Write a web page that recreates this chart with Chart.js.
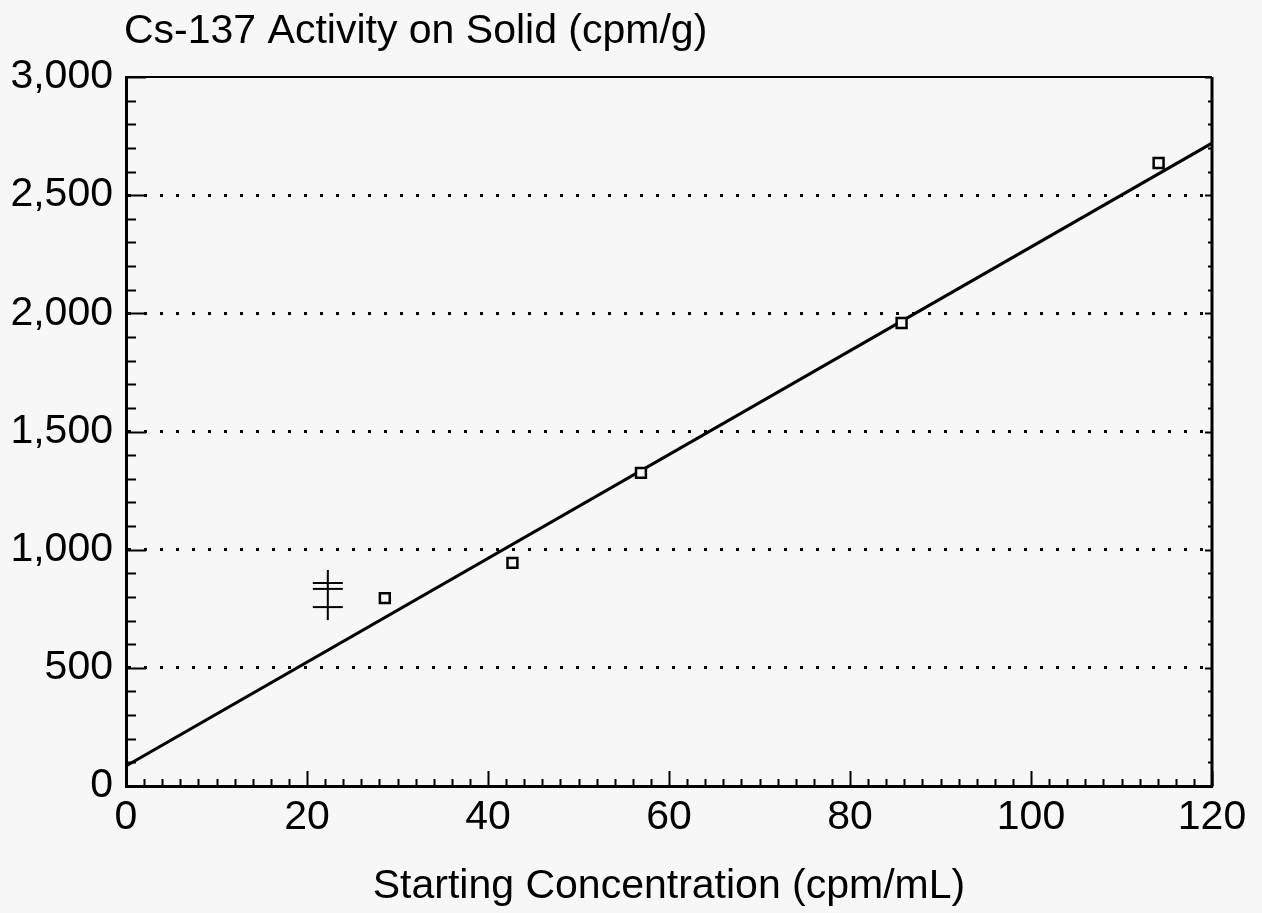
<!DOCTYPE html>
<html>
<head>
<meta charset="utf-8">
<title>Cs-137 Activity on Solid</title>
<script src="https://cdn.jsdelivr.net/npm/chart.js@4.4.1/dist/chart.umd.min.js"></script>
<style>
  html, body { margin: 0; padding: 0; background: #f7f7f7; }
  #wrap { width: 1262px; height: 913px; }
</style>
</head>
<body>
<div id="wrap"><canvas id="sorptionChart"></canvas></div>
<script>
// measured points: starting concentration vs activity on solid
const startConc = [28.6, 42.7, 56.9, 85.7, 114.1];
const solidActivity = [795, 944, 1325, 1959, 2636];

// fitted line end points
const fitConc = [0, 120];
const fitActivity = [85, 2720];

// double-bar marker near x = 22
const markConc = 22.3;
const markBarActivity = [702, 914];
const markTickActivity = [859, 834, 757];

const xTicks = [0, 20, 40, 60, 80, 100, 120];
const yTicks = [0, 500, 1000, 1500, 2000, 2500, 3000];

const FONT = "'Liberation Sans', Arial, Helvetica, sans-serif";
const BG = '#f7f7f7';

// background, title, frame and the inward tick marks
const frameTicks = {
  id: 'frameTicks',
  beforeDraw(chart) {
    const ctx = chart.ctx;
    ctx.save();
    ctx.fillStyle = BG;
    ctx.fillRect(0, 0, chart.width, chart.height);
    ctx.fillStyle = '#000';
    ctx.font = '41px ' + FONT;
    ctx.textAlign = 'left';
    ctx.textBaseline = 'alphabetic';
    ctx.fillText('Cs-137 Activity on Solid (cpm/g)', 124, 43);
    ctx.restore();
  },
  beforeDatasetsDraw(chart) {
    const ctx = chart.ctx;
    const area = chart.chartArea;
    const xs = chart.scales.x, ys = chart.scales.y;
    ctx.save();
    ctx.strokeStyle = '#000';

    // top and right edges of the frame
    ctx.lineWidth = 2;
    ctx.beginPath();
    ctx.moveTo(area.left, area.top);
    ctx.lineTo(area.right, area.top);
    ctx.stroke();
    ctx.lineWidth = 3;
    ctx.beginPath();
    ctx.moveTo(area.right, area.top);
    ctx.lineTo(area.right, area.bottom + 1);
    ctx.stroke();

    ctx.lineWidth = 2;
    ctx.beginPath();
    for (let v = 0; v <= 3000; v += 100) {
      const y = Math.round(ys.getPixelForValue(v)) + 0.5;
      const major = v % 500 === 0;
      ctx.moveTo(area.left, y);
      ctx.lineTo(area.left + (major ? 20 : 10), y);
      ctx.moveTo(area.right, y);
      ctx.lineTo(area.right - (major ? 7 : 4), y);
    }
    for (let v = 0; v <= 120; v += 2) {
      const x = Math.round(xs.getPixelForValue(v)) + 0.5;
      const major = v % 20 === 0;
      ctx.moveTo(x, area.bottom);
      ctx.lineTo(x, area.bottom - (major ? 15 : 7));
    }
    ctx.stroke();
    ctx.restore();
  }
};

const ctx = document.getElementById('sorptionChart').getContext('2d');
new Chart(ctx, {
  type: 'scatter',
  data: {
    datasets: [
      {
        label: 'Measured',
        data: startConc.map((x, i) => ({ x: x, y: solidActivity[i] })),
        pointStyle: 'rect',
        pointRadius: 7,
        pointBorderWidth: 2.5,
        borderColor: '#000',
        backgroundColor: BG,
        showLine: false
      },
      {
        label: 'Fit',
        data: fitConc.map((x, i) => ({ x: x, y: fitActivity[i] })),
        showLine: true,
        borderColor: '#000',
        borderWidth: 3,
        pointRadius: 0
      },
      {
        label: 'Marker bar',
        data: markBarActivity.map(y => ({ x: markConc, y: y })),
        showLine: true,
        borderColor: '#000',
        borderWidth: 2,
        pointRadius: 0
      },
      {
        label: 'Marker ticks',
        data: markTickActivity.map(y => ({ x: markConc, y: y })),
        pointStyle: 'line',
        pointRadius: 15,
        pointBorderWidth: 2,
        borderColor: '#000',
        showLine: false
      }
    ]
  },
  options: {
    responsive: true,
    maintainAspectRatio: false,
    animation: false,
    layout: { padding: { top: 77, right: 50, bottom: 0, left: 0 } },
    plugins: {
      legend: { display: false },
      tooltip: { enabled: false }
    },
    scales: {
      x: {
        type: 'linear',
        min: 0,
        max: 120,
        afterBuildTicks: s => { s.ticks = xTicks.map(v => ({ value: v })); },
        afterFit: s => { s.height = 127; },
        grid: { display: false, drawTicks: false },
        border: { display: true, color: '#000', width: 3 },
        ticks: {
          color: '#000',
          padding: 7,
          maxRotation: 0,
          font: { family: FONT, size: 41 }
        },
        title: {
          display: true,
          text: 'Starting Concentration (cpm/mL)',
          color: '#000',
          font: { family: FONT, size: 41 },
          padding: { top: 0, bottom: 2 }
        }
      },
      y: {
        type: 'linear',
        min: 0,
        max: 3000,
        afterBuildTicks: s => { s.ticks = yTicks.map(v => ({ value: v })); },
        afterFit: s => { s.width = 126; },
        grid: {
          drawTicks: false,
          lineWidth: 3,
          color: c => (c.tick && (c.tick.value === 0 || c.tick.value === 3000)) ? 'rgba(0,0,0,0)' : '#000'
        },
        border: { display: true, color: '#000', width: 3, dash: [3, 13] },
        ticks: {
          color: '#000',
          padding: 13,
          font: { family: FONT, size: 41 },
          callback: v => v.toLocaleString('en-US')
        }
      }
    }
  },
  plugins: [frameTicks]
});
</script>
</body>
</html>
